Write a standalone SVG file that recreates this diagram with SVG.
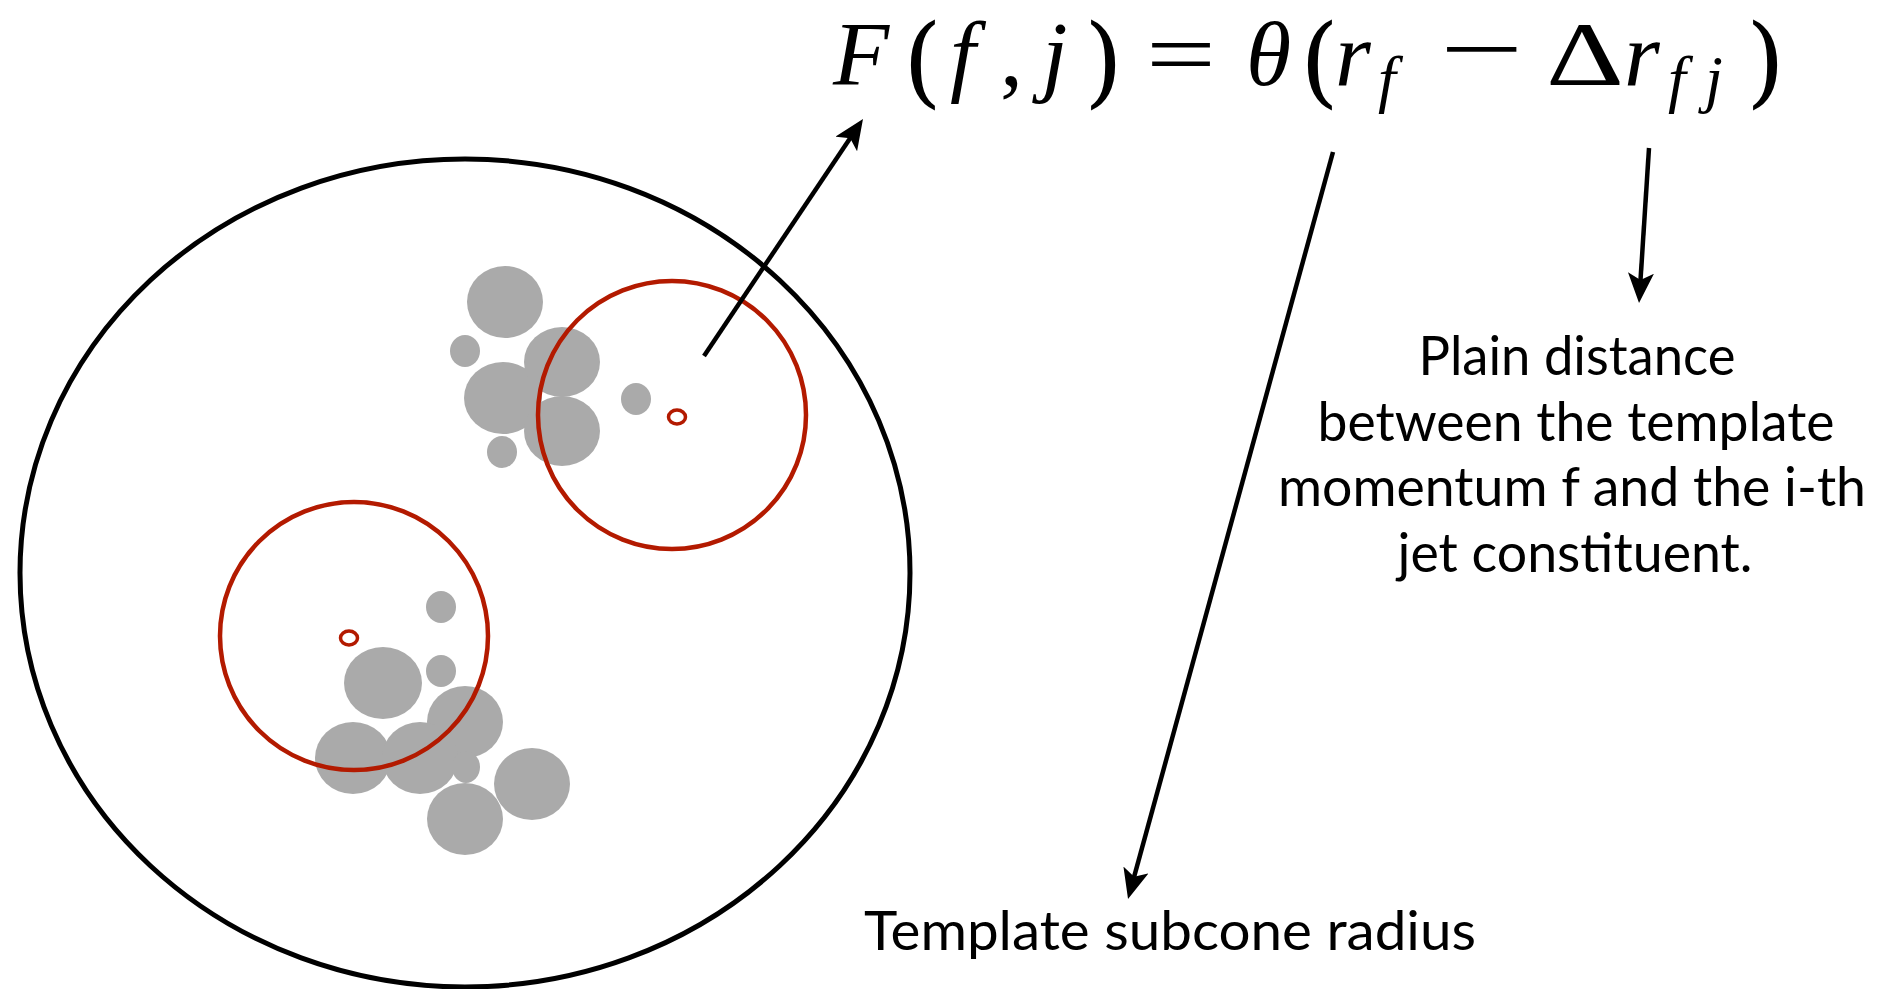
<svg xmlns="http://www.w3.org/2000/svg" width="1886" height="989" viewBox="0 0 1886 989">
<style>
.blob{fill:#aaaaaa}
.red{fill:none;stroke:#b31a00;stroke-width:4.5}
.ring{fill:none;stroke:#b31a00;stroke-width:3.5}
.conn{stroke:#000;stroke-width:4.5;fill:none}
.m{font-family:"Liberation Serif","Times New Roman",serif;font-size:92px;fill:#000}
.mi{font-style:italic}
.p{font-family:"DejaVu Serif","Liberation Serif",serif;font-size:100px;font-style:normal}
.sub{font-size:64px;font-style:italic}
.lbl{font-family:Lato,"Liberation Sans",sans-serif;font-size:54px;fill:#000;text-anchor:middle}
</style>
<defs>
<marker id="ah" markerWidth="32" markerHeight="28" refX="18" refY="13" orient="auto" markerUnits="userSpaceOnUse">
<path d="M0,0 L30,13 L0,26 L7,13 z" fill="#000"/>
</marker>
</defs>
<rect width="1886" height="989" fill="#fff"/>
<g id="jet">
<ellipse cx="465" cy="573" rx="445" ry="414" fill="none" stroke="#000" stroke-width="5"/>
</g>
<g id="constituents-top">
<ellipse class="blob" cx="505" cy="302" rx="38" ry="36"/>
<ellipse class="blob" cx="465" cy="351" rx="15" ry="16"/>
<ellipse class="blob" cx="503" cy="398" rx="39" ry="36"/>
<ellipse class="blob" cx="562" cy="362" rx="38" ry="35"/>
<ellipse class="blob" cx="562" cy="431" rx="38" ry="35"/>
<ellipse class="blob" cx="502" cy="452" rx="15" ry="16"/>
<ellipse class="blob" cx="636" cy="399" rx="15" ry="16"/>
</g>
<g id="constituents-bottom">
<ellipse class="blob" cx="383" cy="683" rx="39" ry="36"/>
<ellipse class="blob" cx="441" cy="607" rx="15" ry="16"/>
<ellipse class="blob" cx="441" cy="671" rx="15" ry="16"/>
<ellipse class="blob" cx="465" cy="722" rx="38" ry="36"/>
<ellipse class="blob" cx="353" cy="758" rx="38" ry="36"/>
<ellipse class="blob" cx="420" cy="758" rx="38" ry="36"/>
<ellipse class="blob" cx="466" cy="767" rx="14" ry="16"/>
<ellipse class="blob" cx="532" cy="784" rx="38" ry="36"/>
<ellipse class="blob" cx="465" cy="819" rx="38" ry="36"/>
</g>
<g id="subcone-top">
<circle class="red" cx="672" cy="415" r="134"/>
<ellipse class="ring" cx="677" cy="417" rx="8.5" ry="7"/>
</g>
<g id="subcone-bottom">
<circle class="red" cx="354" cy="636" r="134"/>
<ellipse class="ring" cx="349" cy="638" rx="8.5" ry="7"/>
</g>
<g id="connectors">
<line class="conn" x1="704" y1="356" x2="856.3" y2="129" marker-end="url(#ah)"/>
<line class="conn" x1="1333" y1="152" x2="1131.2" y2="887.4" marker-end="url(#ah)"/>
<line class="conn" x1="1649" y1="148" x2="1639.8" y2="291" marker-end="url(#ah)"/>
</g>
<g id="formula">
<text class="m"><tspan class="mi" x="833" y="85">F</tspan><tspan class="p" x="903" y="95">(</tspan><tspan class="mi" x="950" y="85">f</tspan><tspan x="1000" y="85">,</tspan><tspan class="mi" x="1042" y="85">j</tspan><tspan class="p" x="1084" y="95">)</tspan><tspan x="1146" y="85" textLength="70" lengthAdjust="spacingAndGlyphs">=</tspan><tspan class="mi" x="1246" y="85">θ</tspan><tspan class="p" x="1300" y="95">(</tspan><tspan class="mi" x="1335" y="85">r</tspan><tspan class="sub" x="1378" y="100">f</tspan><tspan x="1440" y="80" textLength="84" lengthAdjust="spacingAndGlyphs">−</tspan><tspan x="1546" y="85" textLength="78" lengthAdjust="spacingAndGlyphs">Δ</tspan><tspan class="mi" x="1624" y="85">r</tspan><tspan class="sub" x="1668" y="100">f</tspan><tspan class="sub" x="1705" y="100">j</tspan><tspan class="p" x="1746" y="95">)</tspan></text>
</g>
<g id="label-distance">
<text class="lbl" x="1577" y="375" textLength="317" lengthAdjust="spacingAndGlyphs">Plain distance</text>
<text class="lbl" x="1576" y="441" textLength="517" lengthAdjust="spacingAndGlyphs">between the template</text>
<text class="lbl" x="1572" y="506" textLength="588" lengthAdjust="spacingAndGlyphs">momentum f and the i-th</text>
<text class="lbl" x="1575" y="572" textLength="355" lengthAdjust="spacingAndGlyphs">jet constituent.</text>
</g>
<g id="label-radius">
<text class="lbl" x="1170" y="950" textLength="612" lengthAdjust="spacingAndGlyphs">Template subcone radius</text>
</g>
</svg>
